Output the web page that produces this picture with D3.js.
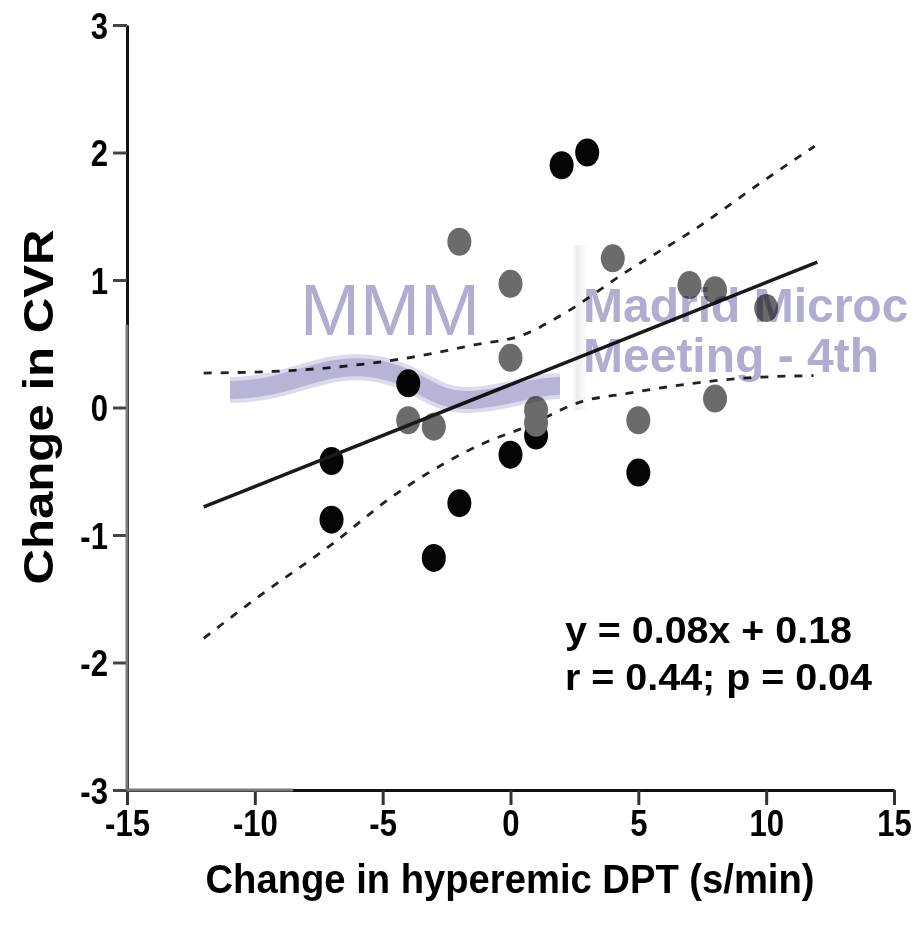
<!DOCTYPE html>
<html>
<head>
<meta charset="utf-8">
<script src="https://cdn.jsdelivr.net/npm/d3@7"></script>
<style>
  body { margin: 0; background: #fff; }
  svg { display: block; font-family: "Liberation Sans", Arial, sans-serif; }
</style>
</head>
<body>
<svg id="chart" width="919" height="932"></svg>
<script>
// values
const blackX = [2, 3, -4, -7, -7, -2, -3, 0, 1, 5];
const blackY = [1.9, 2.0, 0.19, -0.42, -0.88, -0.75, -1.18, -0.37, -0.22, -0.51];
const grayX = [-2, 0, 4, 7, 8, 10, 0, -4, -3, 1, 1, 5, 8];
const grayY = [1.3, 0.97, 1.17, 0.96, 0.92, 0.78, 0.39, -0.1, -0.15, -0.02, -0.12, -0.1, 0.07];

const fitX = [-12, 12];
const fitY = [-0.78, 1.14];
const upperX = [-12, -8.6, -5.35, -3.4, -1.45, 0.5, 1.95, 4.57, 7.15, 9.77, 11.9];
const upperY = [0.27, 0.29, 0.35, 0.41, 0.49, 0.57, 0.72, 1.07, 1.39, 1.76, 2.05];
const lowerX = [-12, -9.9, -6.9, -4.7, -2.6, -1.05, 0.5, 2.85, 4.57, 7.15, 9.1, 11.85];
const lowerY = [-1.81, -1.49, -1.06, -0.71, -0.44, -0.28, -0.16, 0.05, 0.11, 0.19, 0.23, 0.25];

const xTicks = [-15, -10, -5, 0, 5, 10, 15];
const yTicks = [-3, -2, -1, 0, 1, 2, 3];
const statLines = ["y = 0.08x + 0.18", "r = 0.44; p = 0.04"];

const svg = d3.select("#chart");

const x = d3.scaleLinear().domain([-15, 15]).range([127, 894]);
const y = d3.scaleLinear().domain([-3, 3]).range([790, 25]);

// squeeze a text horizontally, the figure uses a narrow bold face
function narrow(sel, k) {
    sel.each(function() {
        const w = this.getComputedTextLength();
        d3.select(this).attr("textLength", w * k).attr("lengthAdjust", "spacingAndGlyphs");
    });
}

// axes
const xAxis = svg.append("g")
    .attr("transform", "translate(0,790)")
    .call(d3.axisBottom(x).tickValues(xTicks).tickSize(15).tickSizeOuter(0).tickFormat(d3.format("d")));
xAxis.select(".domain").attr("stroke", "#111").attr("stroke-width", 3);
xAxis.selectAll(".tick line").attr("stroke", "#333").attr("stroke-width", 3);
xAxis.selectAll(".tick text")
    .attr("fill", "#000")
    .attr("y", 20)
    .attr("dy", "0.71em")
    .style("font-size", "37px")
    .style("font-weight", "bold")
    .text(d => d < 0 ? "-" + Math.abs(d) : d)
    .call(narrow, 0.84);

const yAxis = svg.append("g")
    .attr("transform", "translate(127,0)")
    .call(d3.axisLeft(y).tickValues(yTicks).tickSize(14).tickSizeOuter(0));
yAxis.select(".domain").attr("stroke", "#111").attr("stroke-width", 3);
yAxis.selectAll(".tick line").attr("stroke", "#444").attr("stroke-width", 3);
yAxis.selectAll(".tick text")
    .attr("fill", "#000")
    .attr("x", -19)
    .attr("dy", "0.36em")
    .style("font-size", "37px")
    .style("font-weight", "bold")
    .text(d => d < 0 ? "-" + Math.abs(d) : d)
    .call(narrow, 0.84);

// washed-out lower part of the axes
svg.append("line")
    .attr("x1", x(-15)).attr("x2", x(-15))
    .attr("y1", y(0.65)).attr("y2", y(-3))
    .attr("stroke", "#7a7a7a").attr("stroke-width", 3);
svg.append("line")
    .attr("x1", x(-15)).attr("x2", x(-8.5))
    .attr("y1", y(-3)).attr("y2", y(-3))
    .attr("stroke", "#7a7a7a").attr("stroke-width", 3);

// axis titles
svg.append("text")
    .attr("x", 510).attr("y", 893)
    .attr("text-anchor", "middle")
    .attr("textLength", 609).attr("lengthAdjust", "spacingAndGlyphs")
    .style("font-size", "41px").style("font-weight", "bold")
    .text("Change in hyperemic DPT (s/min)");

svg.append("text")
    .attr("transform", "translate(53,407) rotate(-90)")
    .attr("text-anchor", "middle")
    .attr("textLength", 355).attr("lengthAdjust", "spacingAndGlyphs")
    .style("font-size", "42px").style("font-weight", "bold")
    .text("Change in CVR");

// confidence bands and fit
const band = d3.line().x(d => x(d[0])).y(d => y(d[1])).curve(d3.curveMonotoneX);
svg.append("path")
    .datum(d3.zip(upperX, upperY))
    .attr("d", band)
    .attr("fill", "none").attr("stroke", "#222")
    .attr("stroke-width", 2.8).attr("stroke-dasharray", "8,9");
svg.append("path")
    .datum(d3.zip(lowerX, lowerY))
    .attr("d", band)
    .attr("fill", "none").attr("stroke", "#222")
    .attr("stroke-width", 2.8).attr("stroke-dasharray", "8,9");

// points
svg.append("g").selectAll("ellipse")
    .data(d3.zip(blackX, blackY))
    .join("ellipse")
    .attr("cx", d => x(d[0])).attr("cy", d => y(d[1]))
    .attr("rx", 12).attr("ry", 14)
    .attr("fill", "#050505");
svg.append("g").selectAll("ellipse")
    .data(d3.zip(grayX, grayY))
    .join("ellipse")
    .attr("cx", d => x(d[0])).attr("cy", d => y(d[1]))
    .attr("rx", 12).attr("ry", 14)
    .attr("fill", "#6b6b6b");

svg.append("line")
    .attr("x1", x(fitX[0])).attr("y1", y(fitY[0]))
    .attr("x2", x(fitX[1])).attr("y2", y(fitY[1]))
    .attr("stroke", "#1a1a1a").attr("stroke-width", 3.5);

// regression text
svg.append("g").selectAll("text")
    .data(statLines)
    .join("text")
    .attr("x", 565)
    .attr("y", (d, i) => 643 + i * 47)
    .attr("textLength", (d, i) => i === 0 ? 287 : 307)
    .attr("lengthAdjust", "spacingAndGlyphs")
    .style("font-size", "37px").style("font-weight", "bold")
    .text(d => d);

// conference watermark, multiplied over the plot
const wm = svg.append("g").style("mix-blend-mode", "multiply");
const grad = svg.append("defs").append("linearGradient").attr("id", "edge");
grad.append("stop").attr("offset", "0%").attr("stop-color", "#ffffff");
grad.append("stop").attr("offset", "30%").attr("stop-color", "#ececec");
grad.append("stop").attr("offset", "100%").attr("stop-color", "#ffffff");
wm.append("rect")
    .attr("x", 572).attr("y", 245).attr("width", 16).attr("height", 165)
    .attr("fill", "url(#edge)");
wm.append("text")
    .attr("x", 300).attr("y", 335)
    .style("font-size", "72px")
    .attr("fill", "#b0aed0")
    .text("MMM");
const wave = "M230,390 C290,390 320,362 370,368 C420,374 430,402 470,400 C510,398 530,386 560,386";
wm.append("path")
    .attr("d", wave)
    .attr("fill", "none").attr("stroke", "#dcdaec").attr("stroke-width", 26);
wm.append("path")
    .attr("d", wave)
    .attr("fill", "none").attr("stroke", "#b7b5d6").attr("stroke-width", 18);
wm.append("text")
    .attr("x", 583).attr("y", 322)
    .style("font-size", "48px").style("font-weight", "bold")
    .attr("fill", "#b0aed0")
    .text("Madrid Microc");
wm.append("text")
    .attr("x", 583).attr("y", 372)
    .style("font-size", "48px").style("font-weight", "bold")
    .attr("fill", "#b0aed0")
    .text("Meeting - 4th");
</script>
</body>
</html>
